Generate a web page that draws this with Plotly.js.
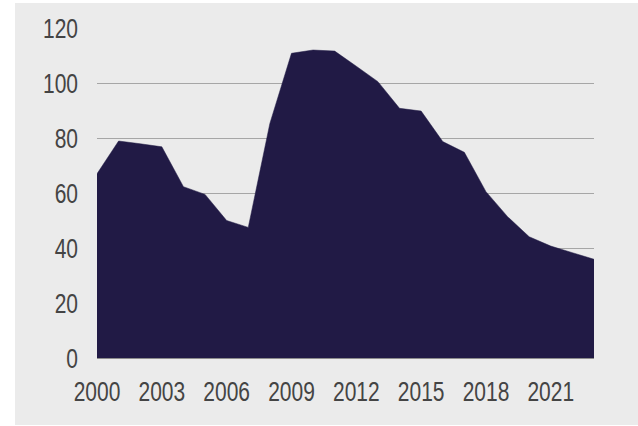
<!DOCTYPE html>
<html>
<head>
<meta charset="utf-8">
<script src="https://cdn.plot.ly/plotly-3.0.1.min.js"></script>
<style>
html,body{margin:0;padding:0;background:#ffffff;width:638px;height:426px;overflow:hidden;}
#chart{position:absolute;left:15px;top:3px;width:623px;height:422px;}
</style>
</head>
<body>
<div id="chart"></div>
<script>
const years = [2000,2001,2002,2003,2004,2005,2006,2007,2008,2009,2010,2011,2012,2013,2014,2015,2016,2017,2018,2019,2020,2021,2022,2023];
const values = [67,78.9,77.9,76.8,62.3,59.5,50,47.5,85.3,110.8,112,111.6,106.1,100.5,90.8,89.8,78.7,74.8,60.5,51.4,44.1,40.7,38.3,35.9];
const xTicks = [2000,2003,2006,2009,2012,2015,2018,2021];
const yTicks = [0,20,40,60,80,100,120];

const tickFont = {family:'"Liberation Sans", Arial, sans-serif', size:21, color:'#444444'};

Plotly.newPlot('chart', [{
  x: years, y: values, type:'scatter', mode:'lines', fill:'tozeroy',
  fillcolor:'#211a45', line:{color:'#211a45', width:0.5}, hoverinfo:'skip'
}], {
  width:623, height:422,
  margin:{l:82, r:44, t:25, b:67, pad:0},
  paper_bgcolor:'#ebebeb', plot_bgcolor:'#ebebeb',
  showlegend:false,
  xaxis:{range:[2000,2023], tickvals:xTicks, ticktext:xTicks.map(String), showgrid:false, zeroline:false,
    showline:true, linecolor:'#8c8c8c', linewidth:1, ticks:'', tickfont:tickFont, ticklabelstandoff:14, fixedrange:true},
  yaxis:{range:[0,120], tickvals:yTicks, ticktext:yTicks.map(String), showgrid:true, gridcolor:'#a6a6a6', gridwidth:1,
    zeroline:false, showline:false, ticks:'', tickfont:tickFont, ticklabelstandoff:18, fixedrange:true, layer:'below traces'}
}, {staticPlot:true, displayModeBar:false}).then(function(gd){
  // stretch tick labels vertically to mimic the condensed lettering of the original
  const k = 1.33;
  gd.querySelectorAll('.xtick text, .ytick text').forEach(function(t){
    const bb = t.getBBox();
    const cy = bb.y + bb.height/2;
    const tr = t.getAttribute('transform') || '';
    t.setAttribute('transform', tr + ' translate(0,' + cy + ') scale(1,' + k + ') translate(0,' + (-cy) + ')');
  });
});
</script>
</body>
</html>
